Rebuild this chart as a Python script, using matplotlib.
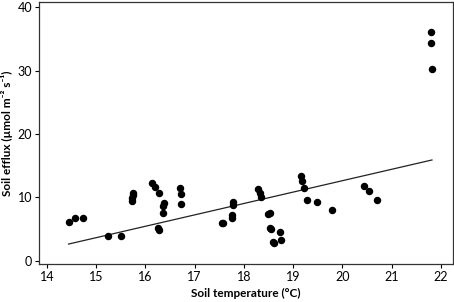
import matplotlib
matplotlib.use('Agg')
import matplotlib.pyplot as plt
import numpy as np

# soil temperature (°C) and soil efflux (µmol m-2 s-1)
temp = [14.44, 14.57, 14.74, 15.24, 15.50, 15.72, 15.72, 15.74, 15.75,
        16.13, 16.20, 16.28, 16.26, 16.27, 16.35, 16.38, 16.36,
        16.71, 16.73, 16.73, 17.55, 17.57, 17.77, 17.77, 17.75, 17.75,
        18.29, 18.33, 18.35, 18.50, 18.53, 18.53, 18.56, 18.60, 18.62,
        18.73, 18.75, 19.17, 19.18, 19.22, 19.29, 19.49, 19.79,
        20.44, 20.54, 20.70, 21.80, 21.80, 21.82]
efflux = [6.16, 6.7, 6.7, 3.85, 3.95, 9.4, 9.9, 10.3, 10.7,
          12.2, 11.7, 10.7, 5.1, 4.85, 8.7, 9.1, 7.6,
          11.5, 10.6, 8.96, 6.0, 5.9, 9.3, 8.8, 7.2, 6.7,
          11.4, 10.7, 10.0, 7.3, 7.5, 5.1, 5.05, 2.9, 2.75,
          4.6, 3.3, 13.4, 12.6, 11.5, 9.6, 9.2, 8.0,
          11.85, 11.0, 9.6, 36.1, 34.3, 30.2]

# fitted linear trend: efflux = intercept + slope * temp
intercept = -23.31
slope = 1.797

plt.rcParams['font.family'] = ['Lato', 'DejaVu Sans']

fig = plt.figure(figsize=(4.54, 3.02), dpi=100)
ax = fig.add_axes([0.086, 0.126, 0.911, 0.867])

ax.scatter(temp, efflux, s=19, color='black', zorder=3)
xfit = np.array([min(temp), max(temp)])
ax.plot(xfit, intercept + slope * xfit, color='#222222', lw=0.9)

ax.set_xlim(13.84, 22.24)
ax.set_ylim(-0.5, 40.8)
ax.set_xticks(range(14, 23))
ax.set_yticks([0, 10, 20, 30, 40])
ax.tick_params(direction='out', length=3, width=0.8, labelsize=9, pad=2,
               top=False, right=False)
for s in ax.spines.values():
    s.set_linewidth(0.9)
    s.set_color('#333333')

ax.set_xlabel('Soil temperature (°C)', fontsize=8.5, fontweight='bold')
ax.xaxis.set_label_coords(0.5, -0.09)
ax.set_ylabel('Soil efflux (µmol m⁻² s⁻¹)', fontsize=8.5, fontweight='bold')
ax.yaxis.set_label_coords(-0.062, 0.5)

plt.savefig('out.png', dpi=100)
plt.close()
